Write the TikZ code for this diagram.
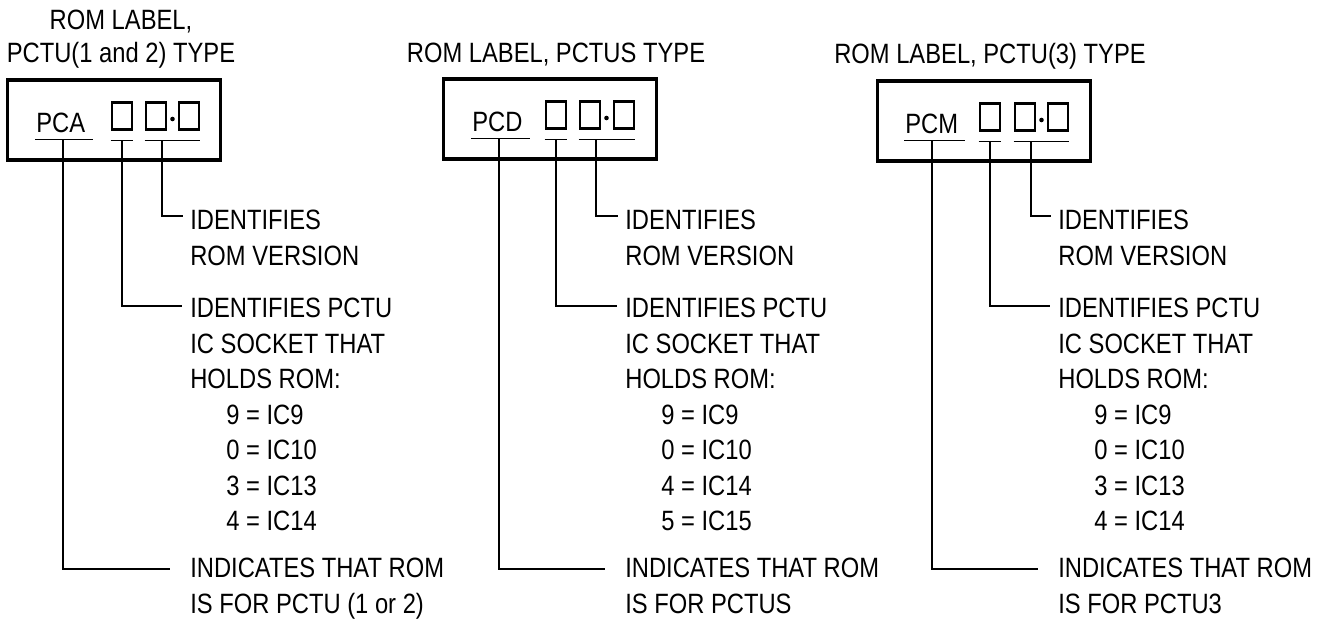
\documentclass[tikz,border=0pt]{standalone}
\usepackage{fontspec}
\setmainfont{Liberation Sans}[FakeStretch=0.85]
\usetikzlibrary{calc}

\begin{document}
\begin{tikzpicture}[x=0.02cm, y=-0.02cm,
    txt/.style={inner sep=0, font=\fontsize{15.9}{20.2}\selectfont},
    heading/.style={inner sep=0, anchor=north, align=center, font=\fontsize{15.9}{18.8}\selectfont},
    noteblock/.style={txt, anchor=north west, align=left},
    labelbox/.style={draw, line width=2.2pt, minimum width=4.26cm, minimum height=1.6cm},
    digit/.style={draw, line width=1.5pt, minimum width=0.4cm, minimum height=0.54cm, inner sep=0},
    dotmark/.style={circle, fill, inner sep=0, minimum size=2.6pt},
    uline/.style={line width=0.7pt},
    leader/.style={line width=0.6pt}]
\useasboundingbox (0,0) rectangle (1330,622);

% PCTU 1 and 2
\begin{scope}
\node[heading] (headA) at (121,10) {ROM LABEL,\\PCTU(1 and 2) TYPE};
\node[labelbox] (boxA) at (114,120) {};
\node[txt, anchor=north west] (pfxA) at (36,113) {PCA};
\node[digit] (socA) at (122,116) {};
\node[digit] (majA) at (156,116) {};
\node[dotmark] (dotA) at (172.5,119) {};
\node[digit] (minA) at (189,116) {};
\draw[uline] ([shift={(-1,6)}]pfxA.south west) -- ([shift={(7,6)}]pfxA.south east);
\draw[uline] ([yshift=-9.5*0.02cm]socA.south west) -- ([yshift=-9.5*0.02cm]socA.south east);
\draw[uline] ([yshift=-9.5*0.02cm]majA.south west) -- ([yshift=-9.5*0.02cm]minA.south east);
\coordinate (tapA1) at (63,139);
\coordinate (tapA2) at ($(socA.south)+(0,9.5)$);
\coordinate (tapA3) at ($(majA.south)+(6,9.5)$);
\node[noteblock] (verA) at (190,210) {IDENTIFIES\\ROM VERSION};
\node[noteblock] (sockA) at (190,298) {IDENTIFIES PCTU\\IC SOCKET THAT\\HOLDS ROM:\\
  \hspace*{0.72cm}9 = IC9\\\hspace*{0.72cm}0 = IC10\\\hspace*{0.72cm}3 = IC13\\\hspace*{0.72cm}4 = IC14};
\node[noteblock] (forA) at (190,558) {INDICATES THAT ROM\\IS FOR PCTU (1 or 2)};
\draw[leader] (tapA3) |- ($(verA.north west)+(-7,6)$);
\draw[leader] (tapA2) |- ($(sockA.north west)+(-8,8)$);
\draw[leader] (tapA1) |- ($(forA.north west)+(-20,11)$);
\end{scope}

% PCTUS
\begin{scope}[shift={(435,0)}]
\node[heading] (headB) at (121,43) {ROM LABEL, PCTUS TYPE};
\node[labelbox] (boxB) at (115,119) {};
\node[txt, anchor=north west] (pfxB) at (37,112) {PCD};
\node[digit] (socB) at (121,115) {};
\node[digit] (majB) at (155,115) {};
\node[dotmark] (dotB) at (171.5,118) {};
\node[digit] (minB) at (189,115) {};
\draw[uline] ([shift={(-1,6)}]pfxB.south west) -- ([shift={(7,6)}]pfxB.south east);
\draw[uline] ([yshift=-9.5*0.02cm]socB.south west) -- ([yshift=-9.5*0.02cm]socB.south east);
\draw[uline] ([yshift=-9.5*0.02cm]majB.south west) -- ([yshift=-9.5*0.02cm]minB.south east);
\coordinate (tapB1) at (64,138);
\coordinate (tapB2) at ($(socB.south)+(0,9.5)$);
\coordinate (tapB3) at ($(majB.south)+(6,9.5)$);
\node[noteblock] (verB) at (190,210) {IDENTIFIES\\ROM VERSION};
\node[noteblock] (sockB) at (190,298) {IDENTIFIES PCTU\\IC SOCKET THAT\\HOLDS ROM:\\
  \hspace*{0.72cm}9 = IC9\\\hspace*{0.72cm}0 = IC10\\\hspace*{0.72cm}4 = IC14\\\hspace*{0.72cm}5 = IC15};
\node[noteblock] (forB) at (190,558) {INDICATES THAT ROM\\IS FOR PCTUS};
\draw[leader] (tapB3) |- ($(verB.north west)+(-7,6)$);
\draw[leader] (tapB2) |- ($(sockB.north west)+(-8,8)$);
\draw[leader] (tapB1) |- ($(forB.north west)+(-20,11)$);
\end{scope}

% PCTU 3
\begin{scope}[shift={(868,0)}]
\node[heading] (headC) at (122,43) {ROM LABEL, PCTU(3) TYPE};
\node[labelbox] (boxC) at (116,121) {};
\node[txt, anchor=north west] (pfxC) at (37,114) {PCM};
\node[digit] (socC) at (122,117) {};
\node[digit] (majC) at (157,117) {};
\node[dotmark] (dotC) at (173.5,120) {};
\node[digit] (minC) at (190,117) {};
\draw[uline] ([shift={(-1,6)}]pfxC.south west) -- ([shift={(7,6)}]pfxC.south east);
\draw[uline] ([yshift=-9.5*0.02cm]socC.south west) -- ([yshift=-9.5*0.02cm]socC.south east);
\draw[uline] ([yshift=-9.5*0.02cm]majC.south west) -- ([yshift=-9.5*0.02cm]minC.south east);
\coordinate (tapC1) at (64,140);
\coordinate (tapC2) at ($(socC.south)+(0,9.5)$);
\coordinate (tapC3) at ($(majC.south)+(6,9.5)$);
\node[noteblock] (verC) at (190,210) {IDENTIFIES\\ROM VERSION};
\node[noteblock] (sockC) at (190,298) {IDENTIFIES PCTU\\IC SOCKET THAT\\HOLDS ROM:\\
  \hspace*{0.72cm}9 = IC9\\\hspace*{0.72cm}0 = IC10\\\hspace*{0.72cm}3 = IC13\\\hspace*{0.72cm}4 = IC14};
\node[noteblock] (forC) at (190,558) {INDICATES THAT ROM\\IS FOR PCTU3};
\draw[leader] (tapC3) |- ($(verC.north west)+(-7,6)$);
\draw[leader] (tapC2) |- ($(sockC.north west)+(-8,8)$);
\draw[leader] (tapC1) |- ($(forC.north west)+(-20,11)$);
\end{scope}
\end{tikzpicture}
\end{document}
